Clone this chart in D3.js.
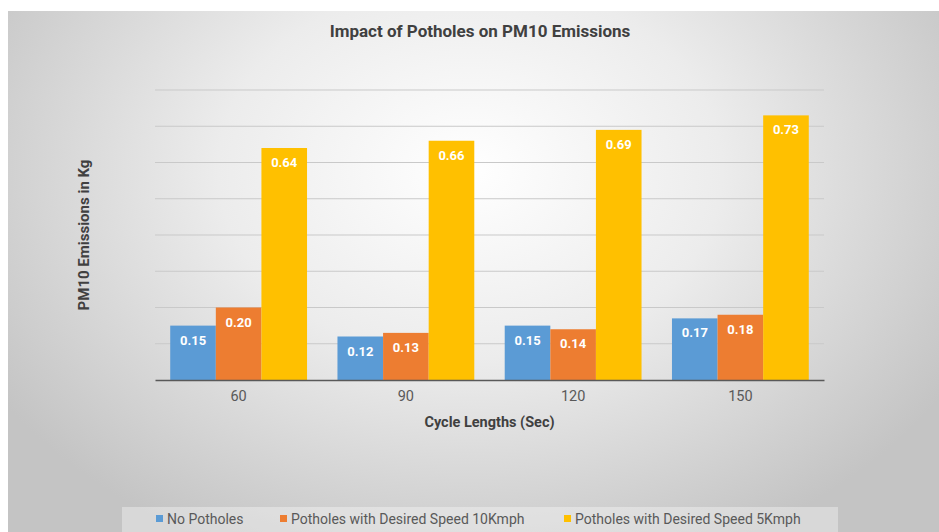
<!DOCTYPE html>
<html>
<head>
<meta charset="utf-8">
<script src="https://cdn.jsdelivr.net/npm/d3@7"></script>
<style>
  html, body { margin: 0; padding: 0; background: #ffffff; }
  svg { display: block; }
  text { font-family: "Roboto", "DejaVu Sans Condensed", sans-serif; }
</style>
</head>
<body>
<svg id="chart" width="939" height="532"></svg>
<script>
const categories = ["60", "90", "120", "150"];
const seriesNames = ["No Potholes", "Potholes with Desired Speed 10Kmph", "Potholes with Desired Speed 5Kmph"];
const noPotholes = [0.15, 0.12, 0.15, 0.17];
const potholes10 = [0.20, 0.13, 0.14, 0.18];
const potholes5 = [0.64, 0.66, 0.69, 0.73];
const yTicks = [0.1, 0.2, 0.3, 0.4, 0.5, 0.6, 0.7, 0.8];
const colors = ["#5B9BD5", "#ED7D31", "#FFC000"];

const series = [noPotholes, potholes10, potholes5];

const svg = d3.select("#chart");
const W = 939, H = 532;

// background with radial gradient
const defs = svg.append("defs");
const grad = defs.append("radialGradient").attr("id", "bg")
  .attr("gradientUnits", "userSpaceOnUse")
  .attr("cx", 470).attr("cy", 170).attr("r", 560)
  .attr("gradientTransform", "translate(470,170) scale(1,0.75) translate(-470,-170)");
grad.append("stop").attr("offset", "0").attr("stop-color", "#ffffff");
grad.append("stop").attr("offset", "0.45").attr("stop-color", "#ececec");
grad.append("stop").attr("offset", "1").attr("stop-color", "#c4c4c4");

svg.append("rect").attr("x", 8).attr("y", 11).attr("width", W - 8).attr("height", H - 11)
  .attr("fill", "url(#bg)");

const margin = { left: 155, right: 824, top: 90, bottom: 380 };

const x0 = d3.scaleBand().domain(categories).range([margin.left, margin.right]).paddingInner(0.182).paddingOuter(0.091);
const x1 = d3.scaleBand().domain(d3.range(series.length)).range([0, x0.bandwidth()]).padding(0);
const y = d3.scaleLinear().domain([0, 0.8]).range([margin.bottom, margin.top]);

// gridlines
svg.append("g").selectAll("line").data(yTicks).join("line")
  .attr("x1", margin.left).attr("x2", margin.right)
  .attr("y1", d => y(d)).attr("y2", d => y(d))
  .attr("stroke", "#c9c9c9").attr("stroke-width", 1);

// bars
const groups = svg.append("g").selectAll("g").data(categories).join("g")
  .attr("transform", d => `translate(${x0(d)},0)`);

groups.selectAll("rect").data((c, i) => series.map((s, k) => ({ k, v: s[i] }))).join("rect")
  .attr("x", d => x1(d.k))
  .attr("y", d => y(d.v))
  .attr("width", x1.bandwidth())
  .attr("height", d => y(0) - y(d.v))
  .attr("fill", d => colors[d.k]);

groups.selectAll("text").data((c, i) => series.map((s, k) => ({ k, v: s[i] }))).join("text")
  .attr("x", d => x1(d.k) + x1.bandwidth() / 2)
  .attr("y", d => y(d.v) + 19)
  .attr("text-anchor", "middle")
  .attr("fill", "#ffffff")
  .attr("font-size", 13)
  .attr("font-weight", "bold")
  .text(d => d.v.toFixed(2));

// x axis
const xAxis = d3.axisBottom(x0).tickSize(0).tickPadding(11);
const gx = svg.append("g").attr("transform", `translate(0,${margin.bottom})`).call(xAxis);
gx.select(".domain").attr("stroke", "#595959").attr("stroke-width", 1.5);
gx.selectAll(".tick text").attr("fill", "#595959").attr("font-size", 14.5)
  .attr("font-family", "Roboto, sans-serif");

// titles
svg.append("text").attr("x", 480).attr("y", 37).attr("text-anchor", "middle")
  .attr("font-size", 17).attr("font-weight", "bold").attr("fill", "#404040")
  .text("Impact of Potholes on PM10 Emissions");

svg.append("text").attr("x", (margin.left + margin.right) / 2).attr("y", 427).attr("text-anchor", "middle")
  .attr("font-size", 14.5).attr("font-weight", "bold").attr("fill", "#404040")
  .text("Cycle Lengths (Sec)");

svg.append("text").attr("transform", `translate(89,${(margin.top + margin.bottom) / 2}) rotate(-90)`)
  .attr("text-anchor", "middle")
  .attr("font-size", 15).attr("font-weight", "bold").attr("fill", "#404040")
  .text("PM10 Emissions in Kg");

// legend
const legend = svg.append("g");
legend.append("rect").attr("x", 122).attr("y", 507).attr("width", 716).attr("height", 25)
  .attr("fill", "#ffffff").attr("fill-opacity", 0.35);
const legendX = [156, 280, 564];
const items = legend.selectAll("g.item").data(seriesNames).join("g").attr("class", "item")
  .attr("transform", (d, i) => `translate(${legendX[i]},519)`);
items.append("rect").attr("x", 0).attr("y", -4).attr("width", 7).attr("height", 7)
  .attr("fill", (d, i) => colors[i]);
items.append("text").attr("x", 11).attr("y", 5).attr("font-size", 14).attr("fill", "#595959")
  .text(d => d);
</script>
</body>
</html>
